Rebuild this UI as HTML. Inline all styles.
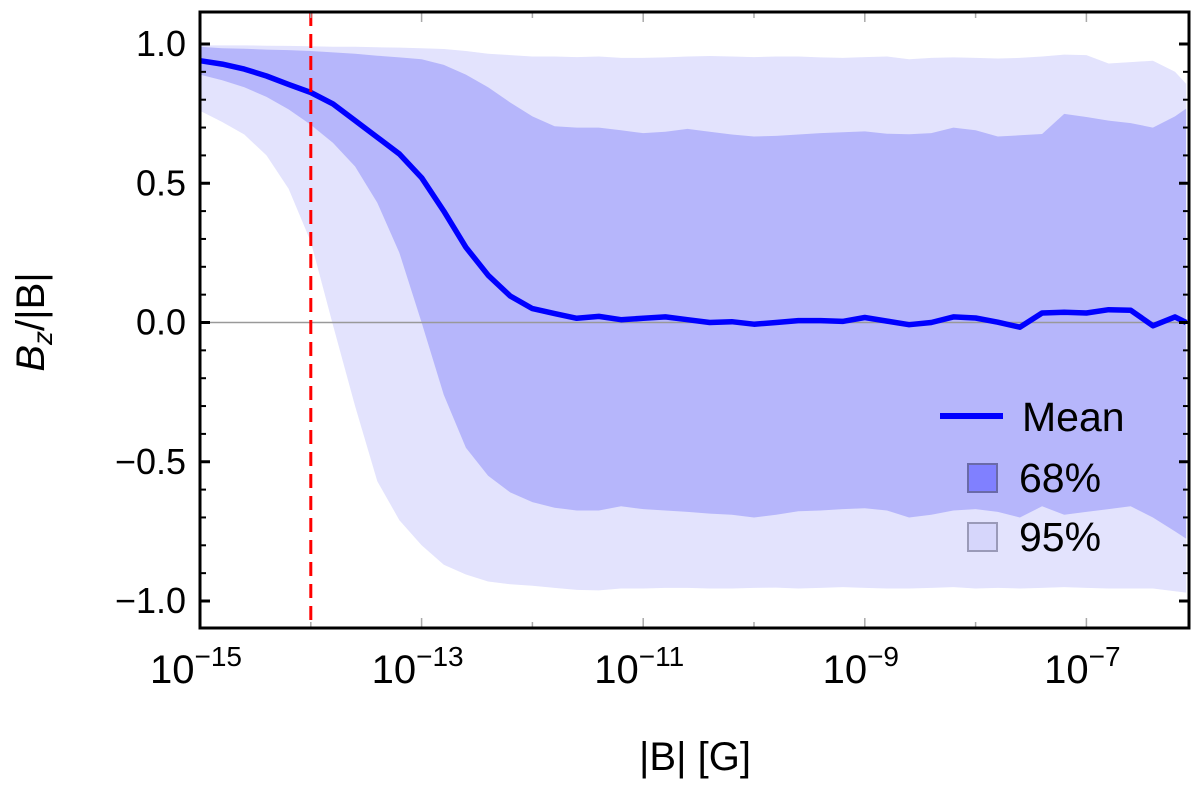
<!DOCTYPE html>
<html><head><meta charset="utf-8">
<style>
html,body{margin:0;padding:0;background:#fff;}
svg{display:block;font-family:"Liberation Sans",sans-serif;}
</style></head>
<body>
<svg id="chart" width="1200" height="787" viewBox="0 0 1200 787" xmlns="http://www.w3.org/2000/svg">
  <g id="bands"></g>
  <g id="lines"></g>
  <g id="axes"></g>
  <text x="695" y="770" font-size="40" text-anchor="middle">|B| [G]</text>
  <text transform="translate(44,322) rotate(-90)" font-size="40" text-anchor="middle"><tspan font-style="italic">B</tspan><tspan font-style="italic" font-size="28" dy="8">z</tspan><tspan dy="-8">/|B|</tspan></text>
  <g>
    <line x1="940" y1="416" x2="1003" y2="416" stroke="#0000ff" stroke-width="6"/>
    <text x="1022" y="431" font-size="41">Mean</text>
    <rect x="968" y="464" width="29" height="28" fill="#8080ff" stroke="#6a6aa8" stroke-width="2"/>
    <text x="1019" y="492" font-size="41">68%</text>
    <rect x="968" y="523" width="29" height="28" fill="#d6d6fb" stroke="#9a9ab8" stroke-width="2"/>
    <text x="1019" y="551" font-size="41">95%</text>
  </g>
</svg>
<script>
const logB = [-15,-14.8,-14.6,-14.4,-14.2,-14,-13.8,-13.6,-13.4,-13.2,-13,-12.8,-12.6,-12.4,-12.2,-12,-11.8,-11.6,-11.4,-11.2,-11,-10.8,-10.6,-10.4,-10.2,-10,-9.8,-9.6,-9.4,-9.2,-9,-8.8,-8.6,-8.4,-8.2,-8,-7.8,-7.6,-7.4,-7.2,-7,-6.8,-6.6,-6.4,-6.2,-6.1];
const meanVals = [0.94,0.928,0.91,0.885,0.855,0.826,0.785,0.725,0.665,0.605,0.52,0.40,0.27,0.17,0.095,0.05,0.032,0.015,0.022,0.01,0.015,0.02,0.01,0.0,0.003,-0.006,0.0,0.007,0.007,0.004,0.018,0.005,-0.008,0.0,0.02,0.016,0.001,-0.017,0.034,0.037,0.034,0.046,0.044,-0.012,0.02,0.0];
const upper68 = [0.99,0.985,0.983,0.98,0.978,0.975,0.97,0.965,0.958,0.952,0.945,0.925,0.89,0.845,0.79,0.74,0.705,0.70,0.70,0.69,0.68,0.685,0.695,0.685,0.675,0.668,0.67,0.675,0.68,0.683,0.686,0.678,0.676,0.68,0.70,0.69,0.668,0.672,0.677,0.749,0.738,0.725,0.716,0.70,0.74,0.768];
const lower68 = [0.89,0.87,0.845,0.81,0.765,0.71,0.645,0.56,0.43,0.25,0.0,-0.26,-0.45,-0.55,-0.61,-0.645,-0.665,-0.675,-0.675,-0.66,-0.67,-0.675,-0.68,-0.686,-0.69,-0.70,-0.69,-0.678,-0.675,-0.67,-0.667,-0.675,-0.70,-0.69,-0.675,-0.67,-0.68,-0.70,-0.66,-0.69,-0.68,-0.67,-0.66,-0.70,-0.75,-0.776];
const upper95 = [0.995,0.995,0.995,0.994,0.993,0.992,0.99,0.99,0.988,0.987,0.985,0.982,0.975,0.965,0.96,0.955,0.955,0.953,0.955,0.95,0.95,0.952,0.955,0.957,0.955,0.953,0.955,0.955,0.952,0.95,0.953,0.955,0.945,0.95,0.952,0.95,0.948,0.95,0.955,0.962,0.96,0.93,0.935,0.94,0.90,0.857];
const lower95 = [0.76,0.72,0.675,0.60,0.48,0.29,-0.01,-0.30,-0.57,-0.71,-0.80,-0.87,-0.905,-0.93,-0.94,-0.945,-0.953,-0.96,-0.962,-0.955,-0.955,-0.953,-0.953,-0.955,-0.955,-0.953,-0.952,-0.955,-0.953,-0.95,-0.953,-0.955,-0.955,-0.953,-0.95,-0.955,-0.953,-0.955,-0.953,-0.95,-0.953,-0.955,-0.955,-0.955,-0.965,-0.97];
const xTickExps = [-15,-13,-11,-9,-7];
const xMinorExps = [-14,-12,-10,-8];
const yTickVals = [1.0,0.5,0.0,-0.5,-1.0];
const yTickLabels = ["1.0","0.5","0.0","\u22120.5","\u22121.0"];
const thresholdExp = -14;

const L=200,R=1189,T=12,B=628;
const xs = v => 200 + (v + 15) * 110.8;
const ys = v => 322.5 - v * 278.5;
const NS="http://www.w3.org/2000/svg";
function mk(tag, attrs, parent){const e=document.createElementNS(NS,tag);for(const k in attrs)e.setAttribute(k,attrs[k]);parent.appendChild(e);return e;}
const bands=document.getElementById('bands'), lines=document.getElementById('lines'), axes=document.getElementById('axes');

function bandPath(up, lo){
  let d='M'+logB.map((v,i)=>xs(v).toFixed(1)+','+ys(up[i]).toFixed(1)).join('L');
  for(let i=logB.length-1;i>=0;i--) d+='L'+xs(logB[i]).toFixed(1)+','+ys(lo[i]).toFixed(1);
  return d+'Z';
}
const b95=mk('path',{d:bandPath(upper95,lower95),fill:'#e3e3fd'},bands);


const b68=mk('path',{d:bandPath(upper68,lower68),fill:'#b6b6fb'},bands);



const zl=mk('line',{x1:L,x2:R,y1:ys(0),y2:ys(0),stroke:'#999',"stroke-width":1.5},lines);


const ml=mk('polyline',{points:logB.map((v,i)=>xs(v).toFixed(1)+','+ys(meanVals[i]).toFixed(1)).join(' '),fill:'none',stroke:'#0000ff',"stroke-width":5.5,"stroke-linejoin":"round"},lines);


const rl=mk('line',{x1:xs(thresholdExp),x2:xs(thresholdExp),y1:T,y2:B,stroke:'#ff0000',"stroke-width":3,"stroke-dasharray":"14 8"},lines);



// y ticks
for(let k=-10;k<=10;k++){
  const y=ys(k/10), major=(k%5===0);
  const len=major?10:6, w=major?3:2;
  const t1=mk('line',{x1:L,x2:L+len,y1:y,y2:y,stroke:'#000',"stroke-width":w},axes);
  
  
  const t2=mk('line',{x1:R-len,x2:R,y1:y,y2:y,stroke:'#000',"stroke-width":w},axes);
  
  
}
yTickVals.forEach((v,i)=>{
  const t=mk('text',{x:186,y:ys(v)+12,"font-size":36,"text-anchor":"end"},axes);
  t.textContent=yTickLabels[i];
  
  
});
// x ticks
xTickExps.concat(xMinorExps).forEach(e=>{
  const x=xs(e), len=xTickExps.includes(e)?10:6;
  const a=mk('line',{x1:x,x2:x,y1:B-len,y2:B,stroke:'#aaa',"stroke-width":1.5},axes);
  
  
  const b=mk('line',{x1:x,x2:x,y1:T,y2:T+len,stroke:'#aaa',"stroke-width":1.5},axes);
  
  
});
xTickExps.forEach(e=>{
  const t=mk('text',{x:xs(e)-4,y:683,"font-size":40,"text-anchor":"middle"},axes);
  
  
  const s1=document.createElementNS(NS,'tspan');s1.textContent='10';t.appendChild(s1);
  const s2=document.createElementNS(NS,'tspan');s2.setAttribute('font-size','28');s2.setAttribute('dy','-17');s2.textContent='\u2212'+(-e);t.appendChild(s2);
});
const fr=mk('rect',{x:L,y:T,width:R-L,height:B-T,fill:'none',stroke:'#000',"stroke-width":3},axes);


</script>
</body></html>
